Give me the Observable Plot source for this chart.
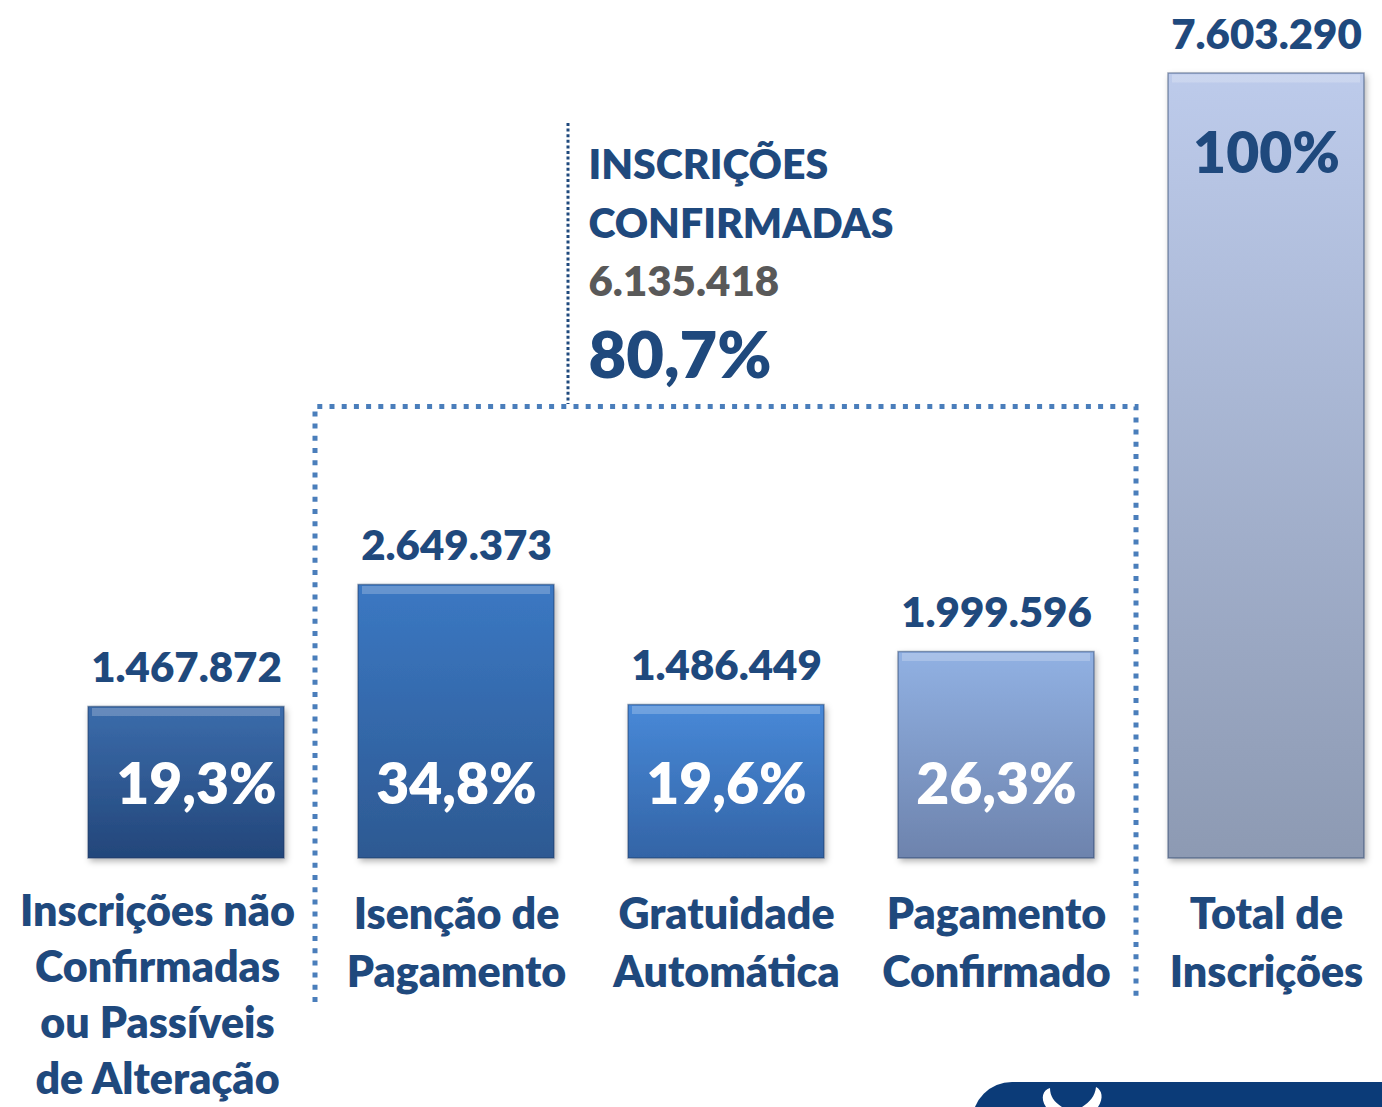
<!DOCTYPE html>
<html>
<head>
<meta charset="utf-8">
<script src="https://cdn.jsdelivr.net/npm/d3@7"></script>
<script src="https://cdn.jsdelivr.net/npm/@observablehq/plot@0.6"></script>
<style>
  html, body { margin: 0; padding: 0; background: #ffffff; }
  #chart svg { display: block; }
</style>
</head>
<body>
<div id="chart"></div>
<script>
// ---- data ----
const categories = [
  "Inscrições não\nConfirmadas\nou Passíveis\nde Alteração",
  "Isenção de\nPagamento",
  "Gratuidade\nAutomática",
  "Pagamento\nConfirmado",
  "Total de\nInscrições"
];
const values = [1467872, 2649373, 1486449, 1999596, 7603290];
const valueLabels = ["1.467.872", "2.649.373", "1.486.449", "1.999.596", "7.603.290"];
const percentLabels = ["19,3%", "34,8%", "19,6%", "26,3%", "100%"];
const groupTitle = ["INSCRIÇÕES\nCONFIRMADAS"];
const groupValue = ["6.135.418"];
const groupPercent = ["80,7%"];

// ---- styles ----
const gradientStops = [
  ["#3b6cab", "#23467a"],
  ["#3b78c3", "#2d5992"],
  ["#4889d8", "#3364a6"],
  ["#91b1e3", "#6d83ad"],
  ["#bdcbeb", "#8d9ab3"]
];
const navy = "#1f497d";
const font = "Lato, 'Open Sans', sans-serif";
const weight = 800;

const data = categories.map((c, i) => ({
  category: c,
  value: values[i],
  valueLabel: valueLabels[i],
  pct: percentLabels[i],
  fill: `url(#barGrad${i})`
}));

const plot = Plot.plot({
  width: 1382,
  height: 1107,
  marginLeft: 86,
  marginRight: 15,
  marginTop: 73,
  marginBottom: 249,
  style: { fontFamily: font, background: "#ffffff", overflow: "visible" },
  x: { domain: categories, paddingInner: 0.273, paddingOuter: 0, axis: null },
  y: { domain: [0, d3.max(values)], axis: null },
  color: { type: "identity" },
  marks: [
    Plot.barY(data, { x: "category", y: "value", fill: "fill", stroke: "#1a3560", strokeOpacity: 0.45, strokeWidth: 1.5 }),
    Plot.tickY(data, { x: "category", y: "value", stroke: "#ffffff", strokeOpacity: 0.22, strokeWidth: 8, dy: 5, insetLeft: 4, insetRight: 4 }),
    Plot.text(data, { x: "category", y: "value", text: "valueLabel", dy: -25, lineAnchor: "bottom", fontSize: 42, fontWeight: weight, fill: navy }),
    Plot.text(data, { filter: (d, i) => i === 0, x: "category", text: "pct", frameAnchor: "bottom", dy: -55, dx: 10, lineAnchor: "bottom", fontSize: 57, fontWeight: weight, fill: "#ffffff" }),
    Plot.text(data, { filter: (d, i) => i > 0 && i < 4, x: "category", text: "pct", frameAnchor: "bottom", dy: -55, lineAnchor: "bottom", fontSize: 57, fontWeight: weight, fill: "#ffffff" }),
    Plot.text(data, { filter: (d, i) => i === 4, x: "category", y: "value", text: "pct", dy: 99, lineAnchor: "bottom", fontSize: 57, fontWeight: weight, fill: navy }),
    Plot.text(data, { filter: (d, i) => i === 0, x: "category", text: "category", frameAnchor: "bottom", lineAnchor: "top", dy: 28, dx: -29, fontSize: 43, lineHeight: 1.3, fontWeight: weight, fill: navy }),
    Plot.text(data, { filter: (d, i) => i > 0, x: "category", text: "category", frameAnchor: "bottom", lineAnchor: "top", dy: 30, fontSize: 43, lineHeight: 1.34, fontWeight: weight, fill: navy }),
    Plot.text(groupTitle, { text: d => d, frameAnchor: "top-left", textAnchor: "start", dx: 502, dy: 164, lineAnchor: "bottom", lineHeight: 1.43, fontSize: 41, fontWeight: weight, fill: navy }),
    Plot.text(groupValue, { text: d => d, frameAnchor: "top-left", textAnchor: "start", dx: 502, dy: 222, lineAnchor: "bottom", fontSize: 42, fontWeight: weight, fill: "#595959" }),
    Plot.text(groupPercent, { text: d => d, frameAnchor: "top-left", textAnchor: "start", dx: 502, dy: 304, lineAnchor: "bottom", fontSize: 65, fontWeight: weight, fill: navy })
  ]
});

// ---- gradients, shadow, bracket and logo decoration ----
const svg = d3.select(plot);
const defs = svg.insert("defs", ":first-child");
gradientStops.forEach((s, i) => {
  const g = defs.append("linearGradient").attr("id", `barGrad${i}`).attr("x1", 0).attr("y1", 0).attr("x2", 0).attr("y2", 1);
  g.append("stop").attr("offset", "0%").attr("stop-color", s[0]);
  g.append("stop").attr("offset", "100%").attr("stop-color", s[1]);
});
const f = defs.append("filter").attr("id", "barShadow").attr("x", "-10%").attr("y", "-10%").attr("width", "130%").attr("height", "130%");
f.append("feDropShadow").attr("dx", 2).attr("dy", 3).attr("stdDeviation", 3).attr("flood-color", "#000").attr("flood-opacity", 0.3);
svg.selectAll('g[aria-label="bar"]').attr("filter", "url(#barShadow)");

const xs = plot.scale("x");
const bw = xs.bandwidth;
const left = xs.apply(categories[1]) - 43;
const right = xs.apply(categories[3]) + bw + 42;
const vertX = xs.apply(categories[1]) + bw + 14;
const deco = svg.append("g").attr("fill", "none");
deco.append("path")
  .attr("d", `M${left},1002V406.5H${right}V1002`)
  .attr("stroke", "#4a7ebb").attr("stroke-width", 5).attr("stroke-dasharray", "5 7.2");
deco.append("path")
  .attr("d", `M${vertX},123V404`)
  .attr("stroke", navy).attr("stroke-width", 3).attr("stroke-dasharray", "3 2.6");

const logo = svg.append("g");
logo.append("rect").attr("x", 972).attr("y", 1082).attr("width", 460).attr("height", 80).attr("rx", 40).attr("fill", "#0b3b78");
logo.append("path").attr("d", "M1046,1107 C1040,1098 1043,1090 1050,1088 C1050,1096 1054,1102 1062,1107 Z").attr("fill", "#ffffff");
logo.append("path").attr("d", "M1098,1107 C1104,1098 1102,1090 1096,1087 C1095,1096 1090,1102 1082,1107 Z").attr("fill", "#ffffff");

document.getElementById("chart").appendChild(plot);
</script>
</body>
</html>
